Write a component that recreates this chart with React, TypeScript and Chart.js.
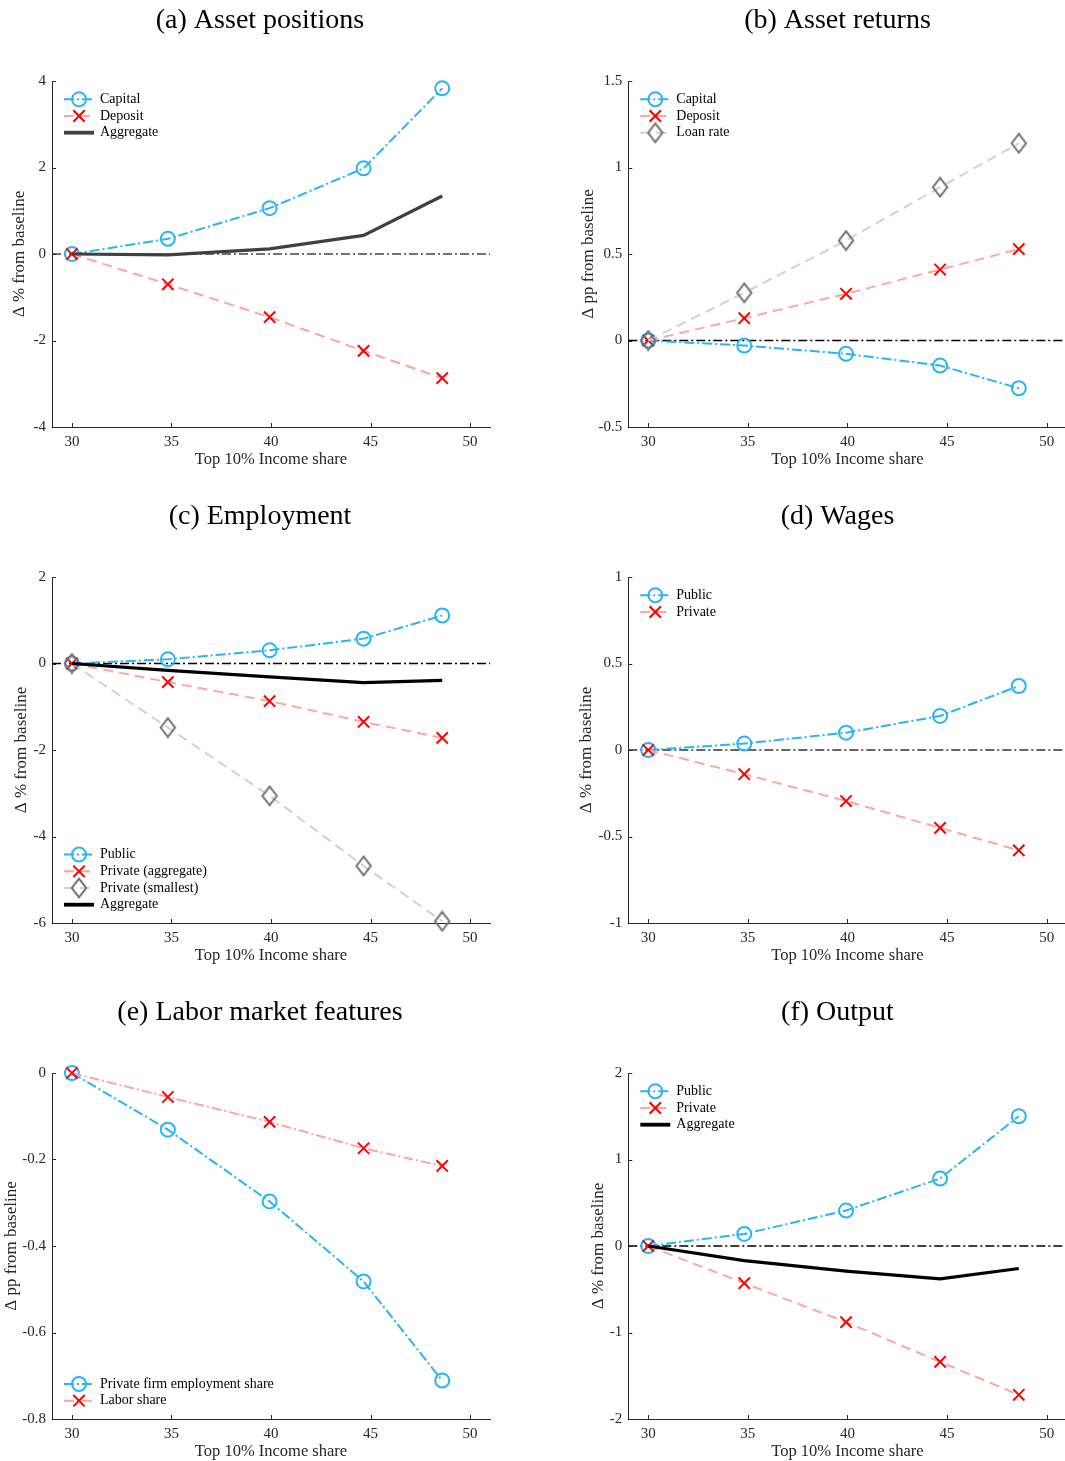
import React, { useEffect, useRef } from 'react';
import { Chart, registerables } from 'chart.js';

Chart.register(...registerables);

// ---------------- data ----------------
const xShare = [30, 34.82, 39.93, 44.65, 48.6];
const xTicks = [30, 35, 40, 45, 50];
const xTickLabels = ['30', '35', '40', '45', '50'];
const X_MIN = 29;
const X_MAX = 51;

// (a) Asset positions
const aCapital = [0, 0.35, 1.06, 1.98, 3.83];
const aDeposit = [0, -0.7, -1.46, -2.24, -2.87];
const aAggregate = [0, -0.02, 0.12, 0.43, 1.34];
const aTicks = [-4, -2, 0, 2, 4];
const aTickLabels = ['-4', '-2', '0', '2', '4'];

// (b) Asset returns
const bCapital = [0, -0.029, -0.077, -0.145, -0.276];
const bDeposit = [0, 0.129, 0.27, 0.41, 0.528];
const bLoanRate = [0, 0.276, 0.578, 0.886, 1.14];
const bTicks = [-0.5, 0, 0.5, 1, 1.5];
const bTickLabels = ['-0.5', '0', '0.5', '1', '1.5'];

// (c) Employment
const cPublic = [0, 0.097, 0.305, 0.575, 1.11];
const cPrivateAgg = [0, -0.43, -0.87, -1.35, -1.72];
const cPrivateSmall = [0, -1.48, -3.06, -4.68, -5.96];
const cAggregate = [0, -0.16, -0.31, -0.44, -0.39];
const cTicks = [-6, -4, -2, 0, 2];
const cTickLabels = ['-6', '-4', '-2', '0', '2'];

// (d) Wages
const dPublic = [0, 0.037, 0.1, 0.197, 0.37];
const dPrivate = [0, -0.14, -0.295, -0.45, -0.58];
const dTicks = [-1, -0.5, 0, 0.5, 1];
const dTickLabels = ['-1', '-0.5', '0', '0.5', '1'];

// (e) Labor market features
const eEmploymentShare = [0, -0.131, -0.297, -0.482, -0.711];
const eLaborShare = [0, -0.0555, -0.113, -0.174, -0.215];
const eTicks = [-0.8, -0.6, -0.4, -0.2, 0];
const eTickLabels = ['-0.8', '-0.6', '-0.4', '-0.2', '0'];

// (f) Output
const fPublic = [0, 0.14, 0.41, 0.78, 1.5];
const fPrivate = [0, -0.43, -0.88, -1.34, -1.72];
const fAggregate = [0, -0.17, -0.29, -0.38, -0.26];
const fTicks = [-2, -1, 0, 1, 2];
const fTickLabels = ['-2', '-1', '0', '1', '2'];

// ---------------- styles ----------------
const SERIF = '"Liberation Serif", "Times New Roman", Times, serif';
const BLUE = 'rgb(40,180,245)';
const PINK = 'rgb(255,165,165)';
const RED = 'rgb(255,0,0)';
const LGRAY = 'rgb(210,210,210)';
const DGRAY = 'rgb(115,115,115)';
const AXIS = '#262626';
const DASHDOT = [10, 3, 2, 3];
const DASHED = [10, 6];
const ZERO_DASH = [9, 3, 2, 3];

const CANVAS_H = 472;
const CHART_TOP = 81;
const CHART_BOTTOM = 427;
const COLS = [
  { left: 0, width: 520, chartLeft: 52, rightGap: 30 },
  { left: 532, width: 611, chartLeft: 96.3, rightGap: 76.4 },
];
const ROW_TOPS = [0, 496, 992];

type Kind = 'circle' | 'cross' | 'diamond' | 'solid';
interface Series {
  label: string;
  values: number[];
  kind: Kind;
  color?: string;
  dash?: number[];
}
interface Panel {
  title: string;
  col: number;
  row: number;
  yMin: number;
  yMax: number;
  yTicks: number[];
  yTickLabels: string[];
  yLabel: string;
  yLabelX: number;
  series: Series[];
  legendAt: 'top' | 'bottom';
  zeroColor: string | null;
}

const PANELS: Panel[] = [
  {
    title: '(a) Asset positions', col: 0, row: 0, yMin: -4, yMax: 4, yTicks: aTicks, yTickLabels: aTickLabels,
    yLabel: 'Δ % from baseline', yLabelX: 20, legendAt: 'top', zeroColor: '#444444',
    series: [
      { label: 'Capital', values: aCapital, kind: 'circle' },
      { label: 'Deposit', values: aDeposit, kind: 'cross' },
      { label: 'Aggregate', values: aAggregate, kind: 'solid', color: '#404040' },
    ],
  },
  {
    title: '(b) Asset returns', col: 1, row: 0, yMin: -0.5, yMax: 1.5, yTicks: bTicks, yTickLabels: bTickLabels,
    yLabel: 'Δ pp from baseline', yLabelX: 56.3, legendAt: 'top', zeroColor: '#000000',
    series: [
      { label: 'Capital', values: bCapital, kind: 'circle' },
      { label: 'Deposit', values: bDeposit, kind: 'cross' },
      { label: 'Loan rate', values: bLoanRate, kind: 'diamond' },
    ],
  },
  {
    title: '(c) Employment', col: 0, row: 1, yMin: -6, yMax: 2, yTicks: cTicks, yTickLabels: cTickLabels,
    yLabel: 'Δ % from baseline', yLabelX: 21.7, legendAt: 'bottom', zeroColor: '#000000',
    series: [
      { label: 'Public', values: cPublic, kind: 'circle' },
      { label: 'Private (aggregate)', values: cPrivateAgg, kind: 'cross' },
      { label: 'Private (smallest)', values: cPrivateSmall, kind: 'diamond' },
      { label: 'Aggregate', values: cAggregate, kind: 'solid', color: '#000000' },
    ],
  },
  {
    title: '(d) Wages', col: 1, row: 1, yMin: -1, yMax: 1, yTicks: dTicks, yTickLabels: dTickLabels,
    yLabel: 'Δ % from baseline', yLabelX: 54.7, legendAt: 'top', zeroColor: '#333333',
    series: [
      { label: 'Public', values: dPublic, kind: 'circle' },
      { label: 'Private', values: dPrivate, kind: 'cross' },
    ],
  },
  {
    title: '(e) Labor market features', col: 0, row: 2, yMin: -0.8, yMax: 0, yTicks: eTicks, yTickLabels: eTickLabels,
    yLabel: 'Δ pp from baseline', yLabelX: 11.7, legendAt: 'bottom', zeroColor: null,
    series: [
      { label: 'Private firm employment share', values: eEmploymentShare, kind: 'circle' },
      { label: 'Labor share', values: eLaborShare, kind: 'cross', dash: DASHDOT },
    ],
  },
  {
    title: '(f) Output', col: 1, row: 2, yMin: -2, yMax: 2, yTicks: fTicks, yTickLabels: fTickLabels,
    yLabel: 'Δ % from baseline', yLabelX: 66.3, legendAt: 'top', zeroColor: '#000000',
    series: [
      { label: 'Public', values: fPublic, kind: 'circle' },
      { label: 'Private', values: fPrivate, kind: 'cross' },
      { label: 'Aggregate', values: fAggregate, kind: 'solid', color: '#000000' },
    ],
  },
];

// ---------------- marker helpers ----------------
let diamondCache: HTMLCanvasElement | null = null;
function getDiamond(): HTMLCanvasElement {
  if (diamondCache) return diamondCache;
  const c = document.createElement('canvas');
  c.width = 18;
  c.height = 22;
  const g = c.getContext('2d')!;
  g.strokeStyle = DGRAY;
  g.lineWidth = 2;
  g.lineJoin = 'miter';
  g.beginPath();
  g.moveTo(9, 1.7);
  g.lineTo(16.2, 11);
  g.lineTo(9, 20.3);
  g.lineTo(1.8, 11);
  g.closePath();
  g.stroke();
  diamondCache = c;
  return c;
}

function lineStyle(s: Series) {
  if (s.kind === 'circle') return { color: BLUE, width: 2, dash: s.dash ?? DASHDOT };
  if (s.kind === 'cross') return { color: PINK, width: 2, dash: s.dash ?? DASHED };
  if (s.kind === 'diamond') return { color: LGRAY, width: 2, dash: s.dash ?? DASHED };
  return { color: s.color ?? '#000', width: 3.2, dash: [] as number[] };
}

function drawMarker(ctx: CanvasRenderingContext2D, kind: Kind, x: number, y: number) {
  ctx.setLineDash([]);
  if (kind === 'circle') {
    ctx.strokeStyle = BLUE;
    ctx.lineWidth = 2;
    ctx.beginPath();
    ctx.arc(x, y, 7, 0, Math.PI * 2);
    ctx.stroke();
  } else if (kind === 'cross') {
    const d = 5.7;
    ctx.strokeStyle = RED;
    ctx.lineWidth = 2;
    ctx.beginPath();
    ctx.moveTo(x - d, y - d);
    ctx.lineTo(x + d, y + d);
    ctx.moveTo(x + d, y - d);
    ctx.lineTo(x - d, y + d);
    ctx.stroke();
  } else if (kind === 'diamond') {
    const img = getDiamond();
    ctx.drawImage(img, x - img.width / 2, y - img.height / 2);
  }
}

const inwardTicks = {
  id: 'inwardTicks',
  afterDraw(chart: any) {
    const { ctx, chartArea, scales } = chart;
    ctx.save();
    ctx.strokeStyle = AXIS;
    ctx.lineWidth = 1;
    ctx.setLineDash([]);
    ctx.beginPath();
    scales.x.ticks.forEach((t: any) => {
      const px = Math.round(scales.x.getPixelForValue(t.value)) + 0.5;
      ctx.moveTo(px, chartArea.bottom);
      ctx.lineTo(px, chartArea.bottom - 4);
    });
    scales.y.ticks.forEach((t: any) => {
      const py = Math.round(scales.y.getPixelForValue(t.value)) + 0.5;
      ctx.moveTo(chartArea.left, py);
      ctx.lineTo(chartArea.left + 4, py);
    });
    ctx.stroke();
    ctx.restore();
  },
};

function makeLegend(p: Panel) {
  return {
    id: 'matlabLegend',
    afterDraw(chart: any) {
      const { ctx, chartArea } = chart;
      const rowH = 16.7;
      const n = p.series.length;
      const first = p.legendAt === 'top' ? chartArea.top + 18.3 : chartArea.bottom - 18.3 - (n - 1) * rowH;
      p.series.forEach((s, i) => {
        const y = first + i * rowH;
        const x0 = chartArea.left + 12;
        const x1 = chartArea.left + 42;
        const xm = chartArea.left + 27;
        const ls = lineStyle(s);
        ctx.save();
        ctx.strokeStyle = ls.color;
        ctx.lineWidth = s.kind === 'solid' ? 3.8 : ls.width;
        ctx.setLineDash(ls.dash);
        ctx.beginPath();
        ctx.moveTo(x0, y);
        ctx.lineTo(x1, y);
        ctx.stroke();
        drawMarker(ctx, s.kind, xm, y);
        ctx.fillStyle = '#000';
        ctx.font = `14px ${SERIF}`;
        ctx.textBaseline = 'middle';
        ctx.textAlign = 'left';
        ctx.fillText(s.label, chartArea.left + 48, y);
        ctx.restore();
      });
    },
  };
}

function buildConfig(p: Panel): any {
  const col = COLS[p.col];
  const datasets: any[] = p.series.map((s, i) => {
    const ls = lineStyle(s);
    const ds: any = {
      label: s.label,
      data: s.values.map((v, j) => ({ x: xShare[j], y: v })),
      borderColor: ls.color,
      borderWidth: ls.width,
      borderDash: ls.dash,
      fill: false,
      tension: 0,
      clip: false,
      order: -i,
      pointBackgroundColor: 'rgba(0,0,0,0)',
    };
    if (s.kind === 'circle') {
      Object.assign(ds, { pointStyle: 'circle', pointRadius: 7, pointBorderColor: BLUE, pointBorderWidth: 2 });
    } else if (s.kind === 'cross') {
      Object.assign(ds, { pointStyle: 'crossRot', pointRadius: 8, pointBorderColor: RED, pointBorderWidth: 2 });
    } else if (s.kind === 'diamond') {
      Object.assign(ds, { pointStyle: getDiamond(), pointRadius: 8, pointBorderColor: DGRAY, pointBorderWidth: 2 });
    } else {
      Object.assign(ds, { pointRadius: 0, borderCapStyle: 'butt', borderJoinStyle: 'miter' });
    }
    return ds;
  });
  if (p.zeroColor) {
    datasets.push({
      label: 'baseline',
      data: [{ x: X_MIN, y: 0 }, { x: X_MAX, y: 0 }],
      borderColor: p.zeroColor,
      borderWidth: 1.3,
      borderDash: ZERO_DASH,
      pointRadius: 0,
      fill: false,
      clip: false,
      order: 100,
    });
  }

  const tickFont = { family: SERIF, size: 15 };
  const xH = CANVAS_H - CHART_BOTTOM;
  const yTitleLH = 17 * 1.2;
  const titleLH = 28 * 1.2;
  const titlePadTop = 20.8 - titleLH / 2;

  return {
    type: 'line',
    data: { datasets },
    plugins: [inwardTicks, makeLegend(p)],
    options: {
      animation: false,
      responsive: false,
      maintainAspectRatio: false,
      events: [],
      layout: { padding: { left: 0, right: 0, top: 0, bottom: 0 } },
      plugins: {
        legend: { display: false },
        tooltip: { enabled: false },
        title: {
          display: true,
          text: p.title,
          color: '#000',
          font: { family: SERIF, size: 28, weight: 'normal' },
          padding: { top: titlePadTop, bottom: CHART_TOP - titlePadTop - titleLH },
        },
      },
      scales: {
        x: {
          type: 'linear',
          position: 'bottom',
          min: X_MIN,
          max: X_MAX,
          afterBuildTicks: (s: any) => {
            s.ticks = xTicks.map((v) => ({ value: v }));
          },
          afterFit: (s: any) => {
            s.height = xH;
          },
          ticks: {
            callback: (_v: any, i: number) => xTickLabels[i],
            font: tickFont,
            color: AXIS,
            padding: 6,
            maxRotation: 0,
            autoSkip: false,
          },
          grid: { display: false, drawTicks: false },
          border: { display: true, color: AXIS, width: 1 },
          title: {
            display: true,
            text: 'Top 10% Income share',
            color: '#262626',
            font: { family: SERIF, size: 16.5 },
            padding: { top: 0, bottom: 2.1 },
          },
        },
        y: {
          type: 'linear',
          position: 'left',
          min: p.yMin,
          max: p.yMax,
          afterBuildTicks: (s: any) => {
            s.ticks = p.yTicks.map((v) => ({ value: v }));
          },
          afterFit: (s: any) => {
            s.width = col.chartLeft;
          },
          ticks: {
            callback: (_v: any, i: number) => p.yTickLabels[i],
            font: tickFont,
            color: AXIS,
            padding: 6,
            autoSkip: false,
          },
          grid: { display: false, drawTicks: false },
          border: { display: true, color: AXIS, width: 1 },
          title: {
            display: true,
            text: p.yLabel,
            color: '#262626',
            font: { family: SERIF, size: 17 },
            padding: { top: p.yLabelX - yTitleLH / 2, bottom: 0 },
          },
        },
        spacer: {
          type: 'linear',
          position: 'right',
          display: true,
          afterFit: (s: any) => {
            s.width = col.rightGap;
          },
          ticks: { display: false },
          grid: { display: false, drawTicks: false },
          border: { display: false },
        },
      },
    },
  };
}

function PanelChart({ panel }: { panel: Panel }) {
  const ref = useRef<HTMLCanvasElement>(null);
  useEffect(() => {
    if (!ref.current) return;
    const chart = new Chart(ref.current, buildConfig(panel));
    return () => chart.destroy();
  }, [panel]);
  const col = COLS[panel.col];
  return (
    <canvas
      ref={ref}
      width={col.width}
      height={CANVAS_H}
      style={{
        position: 'absolute',
        left: col.left,
        top: ROW_TOPS[panel.row],
        width: col.width,
        height: CANVAS_H,
      }}
    />
  );
}

export default function App() {
  return (
    <div
      style={{
        position: 'absolute',
        left: 0,
        top: 0,
        width: 1065,
        height: 1461,
        overflow: 'hidden',
        background: '#fff',
      }}
    >
      {PANELS.map((p) => (
        <PanelChart key={p.title} panel={p} />
      ))}
    </div>
  );
}
